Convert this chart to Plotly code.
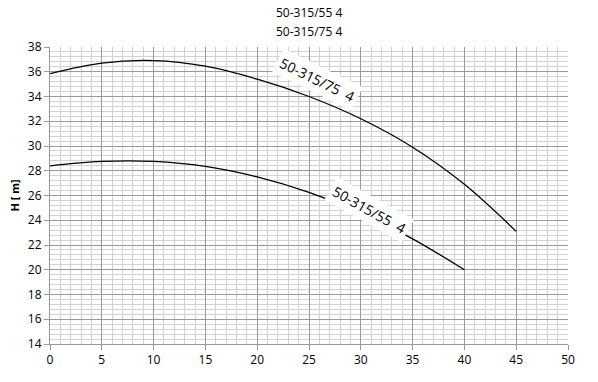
import plotly.graph_objects as go

flow = [0, 5, 10, 15, 20, 25, 30, 35, 40, 45]
head_75 = [35.85, 36.7, 36.9, 36.45, 35.4, 34.0, 32.2, 29.9, 26.9, 23.1]
flow_55 = [0, 5, 10, 15, 20, 25, 30, 35, 40]
head_55 = [28.4, 28.75, 28.75, 28.35, 27.5, 26.25, 24.6, 22.5, 20.0]

title_lines = ["50-315/55 4", "50-315/75 4"]
label_55 = "50-315/55  4"
label_75 = "50-315/75  4"

FONT = "Open Sans, Liberation Sans, sans-serif"

fig = go.Figure()
fig.add_trace(go.Scatter(x=flow, y=head_75, mode="lines", line=dict(color="black", width=1.3, shape="spline"),
                         showlegend=False, hoverinfo="skip"))
fig.add_trace(go.Scatter(x=flow_55, y=head_55, mode="lines", line=dict(color="black", width=1.3, shape="spline"),
                         showlegend=False, hoverinfo="skip"))

fig.add_annotation(x=25.8, y=35.4, text=label_75, showarrow=False, textangle=26,
                   bgcolor="white", font=dict(family=FONT, size=14, color="black"), borderpad=3)
fig.add_annotation(x=30.8, y=24.9, text=label_55, showarrow=False, textangle=29,
                   bgcolor="white", font=dict(family=FONT, size=14, color="black"), borderpad=3)

for line, shift in zip(title_lines, [35, 16]):
    fig.add_annotation(x=0.5, y=1, xref="paper", yref="paper", yanchor="middle", yshift=shift,
                       text=line, showarrow=False,
                       font=dict(family=FONT, size=12, color="black"))

fig.update_layout(
    width=598, height=382,
    margin=dict(l=50, r=30, t=47, b=38),
    paper_bgcolor="white", plot_bgcolor="white",
    font=dict(family=FONT, size=12, color="black"),
    xaxis=dict(range=[0, 50], dtick=5, tick0=0, showgrid=True, gridcolor="#9a9a9a", gridwidth=1,
               minor=dict(dtick=1, showgrid=True, gridcolor="#d2d2d2", ticks=""),
               showline=True, linecolor="#9a9a9a", ticks="outside", ticklen=5, tickcolor="#9a9a9a",
               zeroline=False, tickfont=dict(family=FONT, size=12)),
    yaxis=dict(range=[14, 38], dtick=2, tick0=14, showgrid=True, gridcolor="#9a9a9a", gridwidth=1,
               minor=dict(dtick=0.4, showgrid=True, gridcolor="#d2d2d2", ticks=""),
               showline=True, linecolor="#9a9a9a", ticks="outside", ticklen=5, tickcolor="#9a9a9a",
               zeroline=False, tickfont=dict(family=FONT, size=12),
               title=dict(text="<b>H [ m]</b>", font=dict(family=FONT, size=11), standoff=6)),
)

fig.write_html("out.html", config={"displayModeBar": False},
               post_script="document.body.style.margin='0';")
